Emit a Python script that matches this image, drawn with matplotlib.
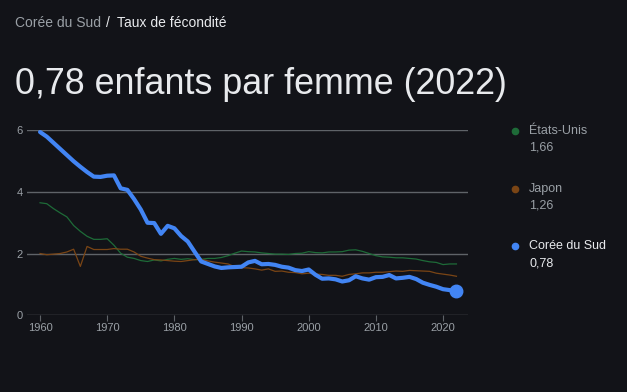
import matplotlib.pyplot as plt

plt.rcParams['font.family'] = ['Liberation Sans', 'DejaVu Sans']

# Data
years = list(range(1960, 2023))
coree = [5.95, 5.80, 5.60, 5.40, 5.20, 5.00, 4.82, 4.65, 4.50, 4.49, 4.53, 4.54, 4.12, 4.07,
         3.77, 3.43, 3.00, 2.99, 2.64, 2.90, 2.82, 2.57, 2.39, 2.06, 1.74, 1.66, 1.58, 1.53,
         1.55, 1.56, 1.57, 1.71, 1.76, 1.65, 1.66, 1.63, 1.57, 1.54, 1.46, 1.43, 1.48, 1.31,
         1.18, 1.19, 1.16, 1.09, 1.13, 1.26, 1.19, 1.15, 1.23, 1.24, 1.30, 1.19, 1.21, 1.24,
         1.17, 1.05, 0.98, 0.92, 0.84, 0.81, 0.78]
etats_unis = [3.65, 3.62, 3.46, 3.32, 3.19, 2.91, 2.72, 2.56, 2.46, 2.46, 2.48, 2.27, 2.01, 1.88,
              1.84, 1.77, 1.74, 1.79, 1.76, 1.81, 1.84, 1.81, 1.83, 1.80, 1.81, 1.84, 1.84, 1.87,
              1.93, 2.01, 2.08, 2.06, 2.05, 2.02, 2.00, 1.98, 1.98, 1.97, 2.00, 2.01, 2.06, 2.03,
              2.02, 2.05, 2.05, 2.06, 2.11, 2.12, 2.07, 2.00, 1.93, 1.89, 1.88, 1.86, 1.86, 1.84,
              1.82, 1.77, 1.73, 1.71, 1.64, 1.66, 1.66]
japon = [2.00, 1.96, 1.98, 2.00, 2.05, 2.14, 1.58, 2.23, 2.13, 2.13, 2.13, 2.16, 2.14, 2.14,
         2.05, 1.91, 1.85, 1.80, 1.79, 1.77, 1.75, 1.74, 1.77, 1.80, 1.81, 1.76, 1.72, 1.69,
         1.66, 1.57, 1.54, 1.53, 1.50, 1.46, 1.50, 1.42, 1.43, 1.39, 1.38, 1.34, 1.36, 1.33,
         1.32, 1.29, 1.29, 1.26, 1.32, 1.34, 1.37, 1.37, 1.39, 1.39, 1.41, 1.43, 1.42, 1.45,
         1.44, 1.43, 1.42, 1.36, 1.33, 1.30, 1.26]
legend_names = ['États-Unis', 'Japon', 'Corée du Sud']
legend_values = ['1,66', '1,26', '0,78']

bg = '#121318'
blue = '#4285f4'
green = '#1e6b38'
brown = '#7a4515'
grid = '#5f6368'
gray = '#9aa0a6'
white = '#e8eaed'

fig = plt.figure(figsize=(6.27, 3.92), dpi=100, facecolor=bg)
ax = fig.add_axes([0.0431, 0.1964, 0.7033, 0.4707], facecolor=bg)

ax.plot(years, etats_unis, color=green, lw=0.9)
ax.plot(years, japon, color=brown, lw=0.9)
ax.plot(years, coree, color=blue, lw=3, solid_capstyle='round', solid_joinstyle='round')
ax.plot(years[-1], coree[-1], 'o', color=blue, ms=9, clip_on=False)

ax.set_xlim(1958.06, 2023.72)
ax.set_ylim(0, 6)
ax.set_yticks([0, 2, 4, 6])
ax.set_xticks(range(1960, 2021, 10))
ax.grid(axis='y', color=grid, lw=1)
for s in ax.spines.values():
    s.set_visible(False)
ax.tick_params(axis='y', length=0, pad=3, labelsize=8, labelcolor=gray)
ax.tick_params(axis='x', length=4, color=grid, pad=2, labelsize=8, labelcolor=gray)
ax.set_axisbelow(True)

# Breadcrumb and headline
fig.text(15 / 627, 1 - 27 / 392, 'Corée du Sud', color=gray, fontsize=10, va='baseline')
fig.text(106 / 627, 1 - 27 / 392, '/', color=white, fontsize=10, va='baseline')
fig.text(117 / 627, 1 - 27 / 392, 'Taux de fécondité', color=white, fontsize=10, va='baseline')
fig.text(15 / 627, 1 - 94 / 392, '0,78 enfants par femme (2022)', color=white,
         fontsize=25.8, va='baseline')

# Legend on the right
colors = [green, brown, blue]
ys = [131, 189, 246]
for name, val, c, y in zip(legend_names, legend_values, colors, ys):
    txt = white if name == 'Corée du Sud' else gray
    fig.lines.append(plt.Line2D([515 / 627], [1 - y / 392], marker='o', ms=4.5, color=c,
                                transform=fig.transFigure))
    fig.text(529 / 627, 1 - y / 392, name, color=txt, fontsize=9, va='center')
    fig.text(529 / 627, 1 - (y + 17) / 392, val, color=txt, fontsize=9, va='center')

plt.savefig('out.png', dpi=100, facecolor=bg)
